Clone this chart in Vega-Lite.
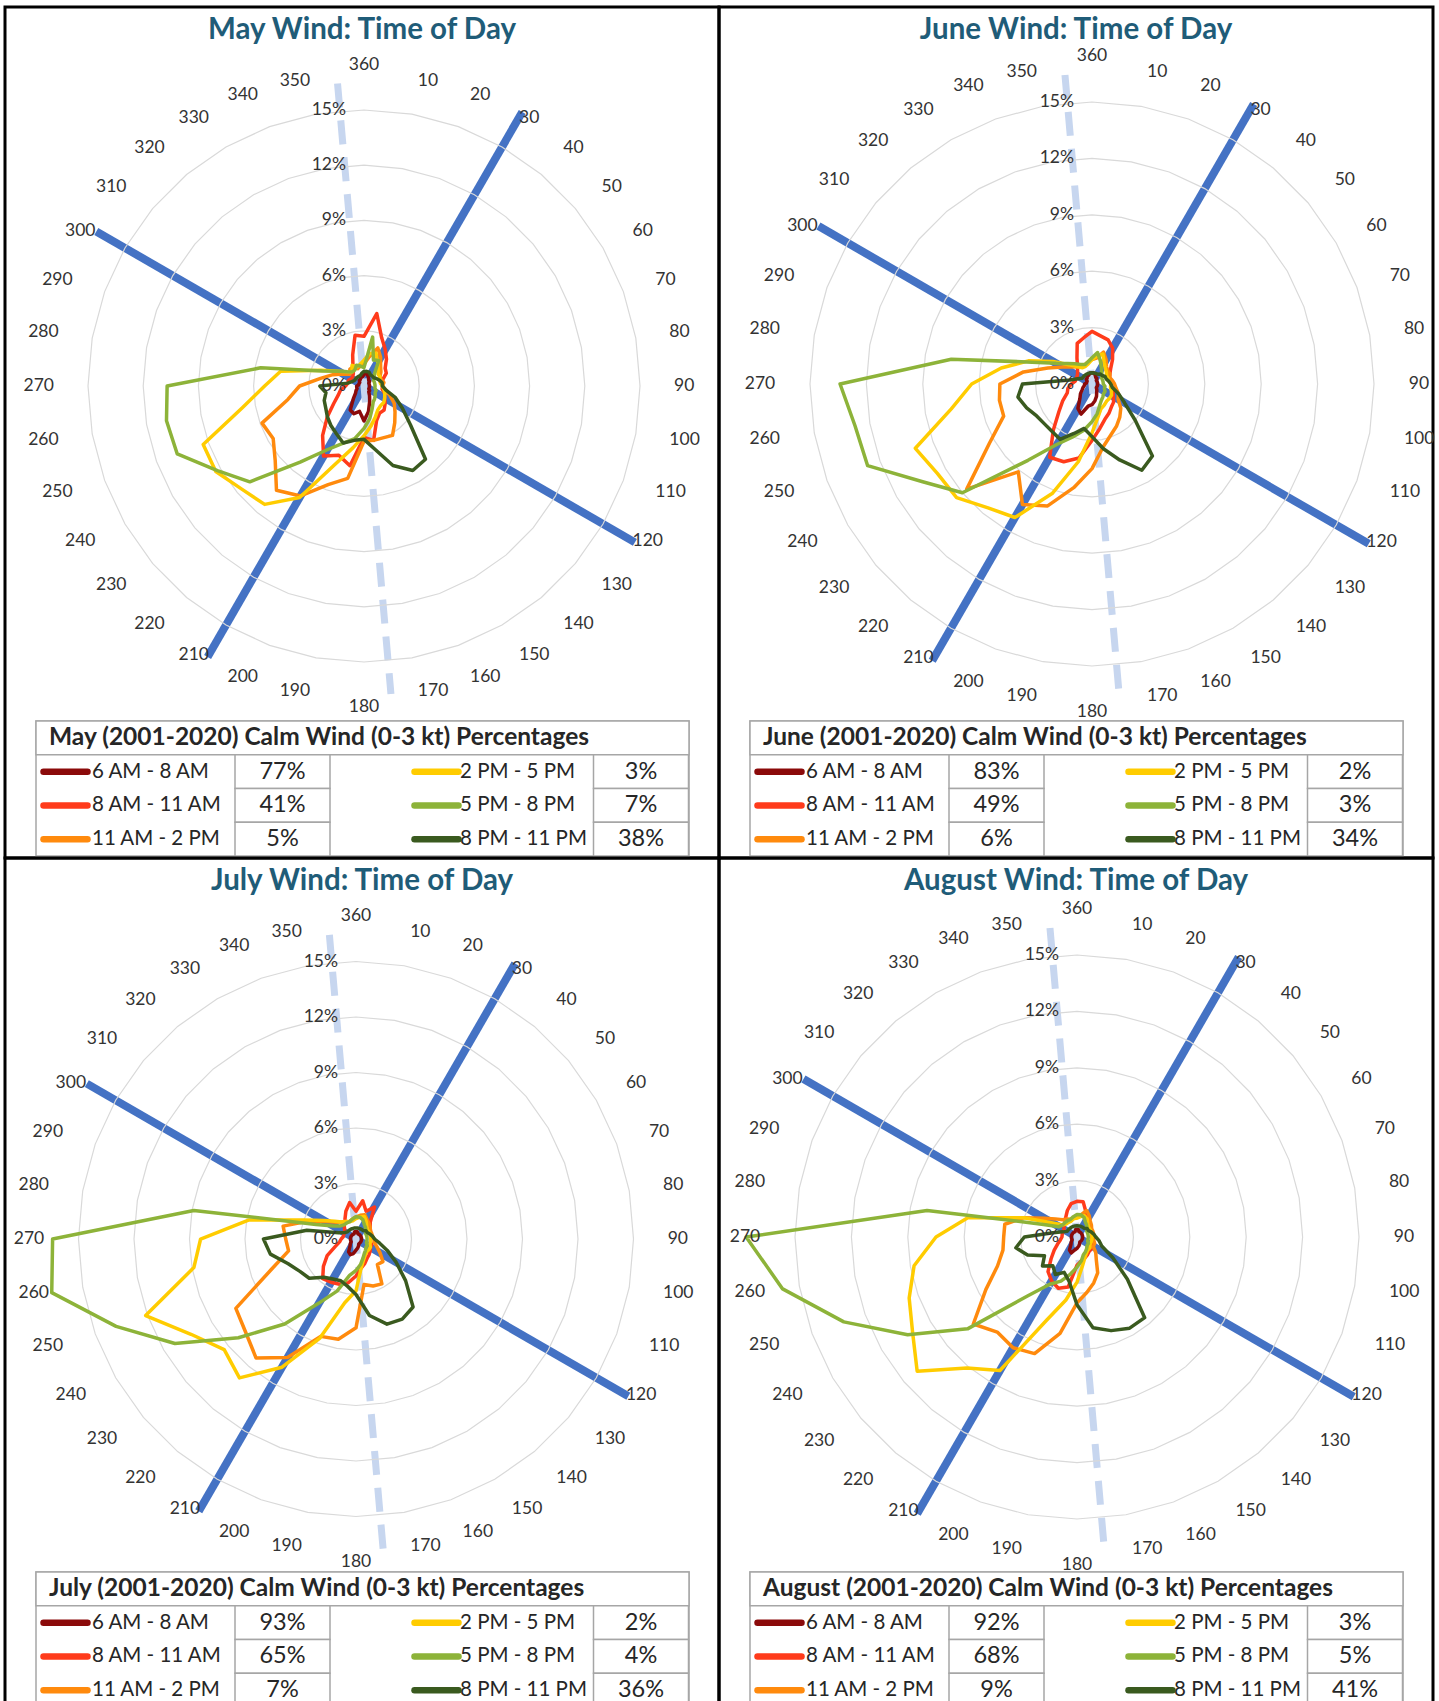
{
"$schema": "https://vega.github.io/schema/vega-lite/v6.json",
"padding": {"left": 3, "top": 5, "right": 2, "bottom": 0},
"background": "white",
"config": {"view": {"stroke": "#000000", "strokeWidth": 3}, "font": "Lato"},
"datasets": {
"dirs": [{"dir":10,"ring":[3,6,9,12,15]},{"dir":20,"ring":[3,6,9,12,15]},{"dir":30,"ring":[3,6,9,12,15]},{"dir":40,"ring":[3,6,9,12,15]},{"dir":50,"ring":[3,6,9,12,15]},{"dir":60,"ring":[3,6,9,12,15]},{"dir":70,"ring":[3,6,9,12,15]},{"dir":80,"ring":[3,6,9,12,15]},{"dir":90,"ring":[3,6,9,12,15]},{"dir":100,"ring":[3,6,9,12,15]},{"dir":110,"ring":[3,6,9,12,15]},{"dir":120,"ring":[3,6,9,12,15]},{"dir":130,"ring":[3,6,9,12,15]},{"dir":140,"ring":[3,6,9,12,15]},{"dir":150,"ring":[3,6,9,12,15]},{"dir":160,"ring":[3,6,9,12,15]},{"dir":170,"ring":[3,6,9,12,15]},{"dir":180,"ring":[3,6,9,12,15]},{"dir":190,"ring":[3,6,9,12,15]},{"dir":200,"ring":[3,6,9,12,15]},{"dir":210,"ring":[3,6,9,12,15]},{"dir":220,"ring":[3,6,9,12,15]},{"dir":230,"ring":[3,6,9,12,15]},{"dir":240,"ring":[3,6,9,12,15]},{"dir":250,"ring":[3,6,9,12,15]},{"dir":260,"ring":[3,6,9,12,15]},{"dir":270,"ring":[3,6,9,12,15]},{"dir":280,"ring":[3,6,9,12,15]},{"dir":290,"ring":[3,6,9,12,15]},{"dir":300,"ring":[3,6,9,12,15]},{"dir":310,"ring":[3,6,9,12,15]},{"dir":320,"ring":[3,6,9,12,15]},{"dir":330,"ring":[3,6,9,12,15]},{"dir":340,"ring":[3,6,9,12,15]},{"dir":350,"ring":[3,6,9,12,15]},{"dir":360,"ring":[3,6,9,12,15]}],
"runways": [{"runway":"03-21","dir":30,"pct":17.2},{"runway":"03-21","dir":210,"pct":17.0},{"runway":"12-30","dir":120,"pct":17.0},{"runway":"12-30","dir":300,"pct":16.8}],
"centerline": [{"dir":355,"pct":16.5},{"dir":175,"pct":16.8}],
"ticks": [{"dir":360,"pct":0,"label":"0%"},{"dir":360,"pct":3,"label":"3%"},{"dir":360,"pct":6,"label":"6%"},{"dir":360,"pct":9,"label":"9%"},{"dir":360,"pct":12,"label":"12%"},{"dir":360,"pct":15,"label":"15%"}],
"calm": [
{"month":"May","period":"6 AM - 8 AM","side":"L","row":"1","calm":0.77},
{"month":"May","period":"8 AM - 11 AM","side":"L","row":"2","calm":0.41},
{"month":"May","period":"11 AM - 2 PM","side":"L","row":"3","calm":0.05},
{"month":"May","period":"2 PM - 5 PM","side":"R","row":"1","calm":0.03},
{"month":"May","period":"5 PM - 8 PM","side":"R","row":"2","calm":0.07},
{"month":"May","period":"8 PM - 11 PM","side":"R","row":"3","calm":0.38},
{"month":"June","period":"6 AM - 8 AM","side":"L","row":"1","calm":0.83},
{"month":"June","period":"8 AM - 11 AM","side":"L","row":"2","calm":0.49},
{"month":"June","period":"11 AM - 2 PM","side":"L","row":"3","calm":0.06},
{"month":"June","period":"2 PM - 5 PM","side":"R","row":"1","calm":0.02},
{"month":"June","period":"5 PM - 8 PM","side":"R","row":"2","calm":0.03},
{"month":"June","period":"8 PM - 11 PM","side":"R","row":"3","calm":0.34},
{"month":"July","period":"6 AM - 8 AM","side":"L","row":"1","calm":0.93},
{"month":"July","period":"8 AM - 11 AM","side":"L","row":"2","calm":0.65},
{"month":"July","period":"11 AM - 2 PM","side":"L","row":"3","calm":0.07},
{"month":"July","period":"2 PM - 5 PM","side":"R","row":"1","calm":0.02},
{"month":"July","period":"5 PM - 8 PM","side":"R","row":"2","calm":0.04},
{"month":"July","period":"8 PM - 11 PM","side":"R","row":"3","calm":0.36},
{"month":"August","period":"6 AM - 8 AM","side":"L","row":"1","calm":0.92},
{"month":"August","period":"8 AM - 11 AM","side":"L","row":"2","calm":0.68},
{"month":"August","period":"11 AM - 2 PM","side":"L","row":"3","calm":0.09},
{"month":"August","period":"2 PM - 5 PM","side":"R","row":"1","calm":0.03},
{"month":"August","period":"5 PM - 8 PM","side":"R","row":"2","calm":0.05},
{"month":"August","period":"8 PM - 11 PM","side":"R","row":"3","calm":0.41}
],
"winds": [
{"month":"May","period":"6 AM - 8 AM","dir":[10,20,30,40,50,60,70,80,90,100,110,120,130,140,150,160,170,180,190,200,210,220,230,240,250,260,270,280,290,300,310,320,330,340,350,360],"pct":[0.8,0.6,0.5,0.4,0.4,0.3,0.3,0.3,0.3,0.3,0.3,0.3,0.4,0.4,0.6,0.9,1.4,1.9,1.4,1.6,1.5,0.9,0.6,0.5,0.4,0.4,0.4,0.3,0.3,0.3,0.3,0.4,0.4,0.5,0.5,0.6]},
{"month":"May","period":"8 AM - 11 AM","dir":[10,20,30,40,50,60,70,80,90,100,110,120,130,140,150,160,170,180,190,200,210,220,230,240,250,260,270,280,290,300,310,320,330,340,350,360],"pct":[4.0,2.8,2.3,1.9,1.5,1.4,1.1,1.0,1.0,1.0,1.2,1.3,1.5,1.7,1.7,2.0,3.0,2.8,4.4,4.0,4.4,3.5,2.6,1.9,1.5,1.3,1.0,0.9,0.9,0.8,0.8,0.9,1.2,1.8,2.8,2.7]},
{"month":"May","period":"11 AM - 2 PM","dir":[10,20,30,40,50,60,70,80,90,100,110,120,130,140,150,160,170,180,190,200,210,220,230,240,250,260,270,280,290,300,310,320,330,340,350,360],"pct":[1.6,2.2,1.8,1.4,1.2,1.0,1.0,1.1,1.0,1.2,1.5,1.9,2.2,2.6,3.1,3.0,3.0,3.0,5.1,5.7,6.9,7.4,6.3,5.7,5.9,4.2,3.5,2.4,1.8,1.3,1.0,1.2,1.2,1.0,1.1,1.2]},
{"month":"May","period":"2 PM - 5 PM","dir":[10,20,30,40,50,60,70,80,90,100,110,120,130,140,150,160,170,180,190,200,210,220,230,240,250,260,270,280,290,300,310,320,330,340,350,360],"pct":[1.8,1.9,1.5,1.2,1.0,1.0,0.9,0.9,1.0,1.1,1.2,1.3,1.4,1.4,1.5,1.8,2.2,2.7,3.4,4.5,7.0,8.4,8.7,9.3,9.3,6.7,5.4,4.6,2.5,1.6,1.2,1.0,1.3,1.1,1.2,1.4]},
{"month":"May","period":"5 PM - 8 PM","dir":[10,20,30,40,50,60,70,80,90,100,110,120,130,140,150,160,170,180,190,200,210,220,230,240,250,260,270,280,290,300,310,320,330,340,350,360],"pct":[2.7,1.5,1.6,0.9,0.7,0.6,0.6,0.6,0.6,0.6,0.7,0.7,0.8,0.9,1.0,1.3,1.8,2.3,2.9,3.3,4.0,5.4,8.1,9.2,10.8,10.9,10.7,5.7,2.4,1.6,1.2,1.0,1.0,1.2,1.1,1.0]},
{"month":"May","period":"8 PM - 11 PM","dir":[10,20,30,40,50,60,70,80,90,100,110,120,130,140,150,160,170,180,190,200,210,220,230,240,250,260,270,280,290,300,310,320,330,340,350,360],"pct":[0.8,0.8,0.7,0.7,0.7,0.8,0.9,1.0,1.0,1.2,1.8,2.4,3.3,5.2,5.3,4.6,3.5,2.9,3.0,3.3,3.0,2.8,2.6,2.4,2.3,2.1,2.4,0.9,0.7,0.6,0.6,0.6,0.6,0.6,0.7,0.8]},
{"month":"June","period":"6 AM - 8 AM","dir":[10,20,30,40,50,60,70,80,90,100,110,120,130,140,150,160,170,180,190,200,210,220,230,240,250,260,270,280,290,300,310,320,330,340,350,360],"pct":[0.6,0.5,0.4,0.4,0.3,0.3,0.3,0.3,0.3,0.3,0.3,0.3,0.3,0.4,0.5,0.7,0.9,1.1,1.2,1.7,1.5,1.0,0.8,0.6,0.5,0.4,0.4,0.3,0.3,0.3,0.4,0.4,0.5,0.5,0.6,0.6]},
{"month":"June","period":"8 AM - 11 AM","dir":[10,20,30,40,50,60,70,80,90,100,110,120,130,140,150,160,170,180,190,200,210,220,230,240,250,260,270,280,290,300,310,320,330,340,350,360],"pct":[2.6,2.5,2.2,1.7,1.3,1.1,1.0,1.0,1.0,1.1,1.2,1.3,1.5,1.6,1.8,2.0,2.4,3.0,4.0,4.4,4.5,3.2,2.3,1.8,1.4,1.3,1.1,0.9,0.9,0.9,1.0,1.2,1.6,2.3,2.5,2.8]},
{"month":"June","period":"11 AM - 2 PM","dir":[10,20,30,40,50,60,70,80,90,100,110,120,130,140,150,160,170,180,190,200,210,220,230,240,250,260,270,280,290,300,310,320,330,340,350,360],"pct":[1.4,1.8,1.5,1.2,1.1,1.1,1.0,1.1,1.2,1.3,1.5,1.6,2.0,2.3,2.6,2.9,3.4,4.5,5.6,6.9,7.4,6.1,8.7,6.3,5.0,5.0,4.9,3.7,2.5,1.8,1.4,1.2,1.1,1.1,1.2,1.3]},
{"month":"June","period":"2 PM - 5 PM","dir":[10,20,30,40,50,60,70,80,90,100,110,120,130,140,150,160,170,180,190,200,210,220,230,240,250,260,270,280,290,300,310,320,330,340,350,360],"pct":[1.5,1.7,1.3,1.1,1.0,0.9,0.9,0.9,1.0,1.0,1.1,1.2,1.2,1.2,1.3,1.4,1.8,2.6,4.2,6.2,8.2,8.6,9.4,9.5,10.0,7.6,6.4,4.9,3.6,2.4,1.6,1.2,1.0,1.0,1.1,1.3]},
{"month":"June","period":"5 PM - 8 PM","dir":[10,20,30,40,50,60,70,80,90,100,110,120,130,140,150,160,170,180,190,200,210,220,230,240,250,260,270,280,290,300,310,320,330,340,350,360],"pct":[1.7,1.3,1.0,0.8,0.7,0.6,0.6,0.6,0.6,0.7,0.7,0.8,0.8,0.9,1.0,1.2,1.6,2.0,2.5,3.0,3.7,5.3,9.0,10.4,12.7,12.8,13.4,7.6,3.4,2.2,1.7,1.4,1.2,1.1,1.2,1.4]},
{"month":"June","period":"8 PM - 11 PM","dir":[10,20,30,40,50,60,70,80,90,100,110,120,130,140,150,160,170,180,190,200,210,220,230,240,250,260,270,280,290,300,310,320,330,340,350,360],"pct":[0.6,0.6,0.6,0.7,0.7,0.8,0.8,0.9,1.0,1.1,1.5,2.0,3.0,5.0,5.3,4.3,3.5,2.8,2.4,2.8,3.4,3.3,3.3,3.4,3.7,4.0,3.7,1.2,0.8,0.6,0.6,0.6,0.6,0.6,0.6,0.6]},
{"month":"July","period":"6 AM - 8 AM","dir":[10,20,30,40,50,60,70,80,90,100,110,120,130,140,150,160,170,180,190,200,210,220,230,240,250,260,270,280,290,300,310,320,330,340,350,360],"pct":[0.4,0.3,0.3,0.3,0.3,0.3,0.3,0.3,0.3,0.3,0.3,0.3,0.3,0.3,0.3,0.4,0.5,0.6,0.8,0.9,0.8,0.5,0.4,0.3,0.3,0.3,0.3,0.3,0.3,0.3,0.3,0.3,0.3,0.3,0.4,0.4]},
{"month":"July","period":"8 AM - 11 AM","dir":[10,20,30,40,50,60,70,80,90,100,110,120,130,140,150,160,170,180,190,200,210,220,230,240,250,260,270,280,290,300,310,320,330,340,350,360],"pct":[2.1,1.6,2.0,1.2,1.0,0.9,0.8,0.8,0.8,0.8,0.9,0.9,1.0,1.1,1.2,1.4,1.6,2.0,2.4,2.6,2.7,2.8,2.3,1.8,1.2,0.9,0.8,0.7,0.7,0.7,0.8,1.0,1.2,1.6,2.0,1.5]},
{"month":"July","period":"11 AM - 2 PM","dir":[10,20,30,40,50,60,70,80,90,100,110,120,130,140,150,160,170,180,190,200,210,220,230,240,250,260,270,280,290,300,310,320,330,340,350,360],"pct":[1.3,1.4,1.2,1.1,1.0,0.9,0.9,0.9,1.0,1.0,1.2,1.5,1.9,1.8,2.8,2.7,2.5,4.8,5.5,5.6,7.4,8.4,7.8,7.5,4.9,3.7,3.8,4.0,2.8,1.9,1.4,1.2,1.1,1.0,1.1,1.2]},
{"month":"July","period":"2 PM - 5 PM","dir":[10,20,30,40,50,60,70,80,90,100,110,120,130,140,150,160,170,180,190,200,210,220,230,240,250,260,270,280,290,300,310,320,330,340,350,360],"pct":[1.2,1.3,1.1,0.9,0.8,0.8,0.8,0.8,0.8,0.8,0.8,0.9,0.9,0.9,1.0,1.2,1.6,2.8,3.5,5.7,8.0,9.8,9.3,10.3,12.1,8.9,8.4,5.9,3.0,2.0,1.5,1.2,1.1,1.0,1.0,1.1]},
{"month":"July","period":"5 PM - 8 PM","dir":[10,20,30,40,50,60,70,80,90,100,110,120,130,140,150,160,170,180,190,200,210,220,230,240,250,260,270,280,290,300,310,320,330,340,350,360],"pct":[1.2,1.1,0.9,0.8,0.7,0.6,0.6,0.6,0.6,0.6,0.6,0.7,0.7,0.8,0.9,1.1,1.4,1.7,2.0,3.0,4.0,6.0,8.3,11.3,13.8,16.7,16.4,8.9,2.3,1.4,1.1,1.0,1.0,1.0,1.1,1.2]},
{"month":"July","period":"8 PM - 11 PM","dir":[10,20,30,40,50,60,70,80,90,100,110,120,130,140,150,160,170,180,190,200,210,220,230,240,250,260,270,280,290,300,310,320,330,340,350,360],"pct":[0.6,0.6,0.6,0.6,0.7,0.7,0.8,0.9,1.0,1.3,1.8,2.5,3.5,4.8,5.0,4.9,4.2,3.0,2.6,2.4,2.5,2.7,3.3,3.5,3.9,4.7,5.0,2.7,1.0,0.7,0.6,0.6,0.6,0.6,0.6,0.6]},
{"month":"August","period":"6 AM - 8 AM","dir":[10,20,30,40,50,60,70,80,90,100,110,120,130,140,150,160,170,180,190,200,210,220,230,240,250,260,270,280,290,300,310,320,330,340,350,360],"pct":[0.4,0.3,0.3,0.3,0.3,0.3,0.3,0.3,0.3,0.3,0.3,0.3,0.3,0.3,0.3,0.4,0.5,0.6,0.7,0.9,0.8,0.5,0.4,0.3,0.3,0.3,0.3,0.3,0.3,0.3,0.3,0.3,0.3,0.3,0.4,0.4]},
{"month":"August","period":"8 AM - 11 AM","dir":[10,20,30,40,50,60,70,80,90,100,110,120,130,140,150,160,170,180,190,200,210,220,230,240,250,260,270,280,290,300,310,320,330,340,350,360],"pct":[1.9,1.4,1.1,0.9,0.8,0.8,0.8,0.8,0.8,0.8,0.9,0.9,1.0,1.0,1.1,1.2,1.3,1.5,2.7,2.9,2.7,2.4,1.8,1.4,1.1,0.9,0.8,0.8,0.8,0.8,0.9,1.0,1.2,1.5,1.8,1.9]},
{"month":"August","period":"11 AM - 2 PM","dir":[10,20,30,40,50,60,70,80,90,100,110,120,130,140,150,160,170,180,190,200,210,220,230,240,250,260,270,280,290,300,310,320,330,340,350,360],"pct":[1.2,1.5,1.3,1.1,1.0,0.9,0.9,0.9,0.9,0.9,1.0,1.0,1.3,1.6,2.2,2.6,3.0,3.5,5.2,6.6,6.8,6.6,7.2,5.6,4.5,4.0,3.9,3.9,3.0,2.0,1.5,1.2,1.1,1.0,1.0,1.1]},
{"month":"August","period":"2 PM - 5 PM","dir":[10,20,30,40,50,60,70,80,90,100,110,120,130,140,150,160,170,180,190,200,210,220,230,240,250,260,270,280,290,300,310,320,330,340,350,360],"pct":[1.1,1.2,1.1,0.9,0.8,0.8,0.8,0.8,0.8,0.8,0.8,0.8,0.9,0.9,1.0,1.2,1.6,2.4,3.4,4.7,8.2,9.1,11.1,10.1,9.5,8.8,7.5,5.9,3.0,1.5,1.0,0.9,0.9,0.9,1.0,1.0]},
{"month":"August","period":"5 PM - 8 PM","dir":[10,20,30,40,50,60,70,80,90,100,110,120,130,140,150,160,170,180,190,200,210,220,230,240,250,260,270,280,290,300,310,320,330,340,350,360],"pct":[1.2,1.1,0.9,0.8,0.7,0.6,0.6,0.6,0.6,0.6,0.6,0.7,0.7,0.8,0.9,1.0,1.3,1.6,2.0,2.5,2.9,4.1,7.6,10.4,13.2,15.9,17.6,8.1,2.0,1.1,1.0,1.0,1.0,1.0,1.1,1.2]},
{"month":"August","period":"8 PM - 11 PM","dir":[10,20,30,40,50,60,70,80,90,100,110,120,130,140,150,160,170,180,190,200,210,220,230,240,250,260,270,280,290,300,310,320,330,340,350,360],"pct":[0.6,0.6,0.6,0.6,0.7,0.7,0.8,0.9,1.0,1.2,1.4,2.2,3.5,5.6,5.6,5.3,4.9,3.6,2.4,2.0,2.3,2.0,2.4,2.0,2.8,3.3,2.8,1.3,0.8,0.6,0.6,0.6,0.6,0.6,0.6,0.6]}
]
},
"columns": 2,
"spacing": 0,
"bounds": "flush",
"concat": [
{"width": 714, "height": 851,
 "layer": [
  {"encoding": {"x": {"field": "x", "type": "quantitative", "scale": {"domain": [-19.511, 19.293], "nice": false, "zero": false}, "axis": null}, "y": {"field": "y", "type": "quantitative", "scale": {"domain": [-25.652, 20.598], "nice": false, "zero": false}, "axis": null}},
   "layer": [
    {"data": {"name": "runways"}, "transform": [{"calculate": "datum.pct*sin(datum.dir*PI/180)", "as": "x"}, {"calculate": "datum.pct*cos(datum.dir*PI/180)", "as": "y"}], "mark": {"type": "line", "color": "#4472c4", "strokeWidth": 8}, "encoding": {"detail": {"field": "runway"}}},
    {"data": {"name": "centerline"}, "transform": [{"calculate": "datum.pct*sin(datum.dir*PI/180)", "as": "x"}, {"calculate": "datum.pct*cos(datum.dir*PI/180)", "as": "y"}], "mark": {"type": "line", "color": "#c7d6ef", "strokeWidth": 7, "strokeDash": [24, 13]}, "encoding": {}},
    {"data": {"name": "dirs"}, "transform": [{"flatten": ["ring"]}, {"calculate": "datum.ring*sin(datum.dir*PI/180)", "as": "x"}, {"calculate": "datum.ring*cos(datum.dir*PI/180)", "as": "y"}], "mark": {"type": "line", "interpolate": "linear-closed", "color": "#d9d9d9", "strokeWidth": 1.2}, "encoding": {"detail": {"field": "ring"}, "order": {"field": "dir", "type": "quantitative"}}},
    {"data": {"name": "winds"}, "transform": [{"filter": "datum.month == 'May'"}, {"flatten": ["dir", "pct"]}, {"calculate": "datum.pct*sin(datum.dir*PI/180)", "as": "x"}, {"calculate": "datum.pct*cos(datum.dir*PI/180)", "as": "y"}], "mark": {"type": "line", "interpolate": "linear-closed", "strokeWidth": 3.5, "strokeJoin": "round"}, "encoding": {"color": {"field": "period", "type": "nominal", "scale": {"domain": ["6 AM - 8 AM","8 AM - 11 AM","11 AM - 2 PM","2 PM - 5 PM","5 PM - 8 PM","8 PM - 11 PM"], "range": ["#8b0a0a","#ff3b1b","#ff8a0d","#ffcc00","#8db339","#3a5a1f"]}, "legend": null}, "order": {"field": "dir", "type": "quantitative"}}},
    {"data": {"name": "dirs"}, "transform": [{"filter": "datum.dir > 0 && datum.dir < 180"}, {"calculate": "16.85*sin(datum.dir*PI/180)", "as": "x"}, {"calculate": "16.85*cos(datum.dir*PI/180)", "as": "y"}], "mark": {"type": "text", "align": "left", "baseline": "middle", "font": "Lato", "fontSize": 17.5, "color": "#333333"}, "encoding": {"text": {"field": "dir", "type": "nominal"}}},
    {"data": {"name": "dirs"}, "transform": [{"filter": "datum.dir > 180 && datum.dir < 360"}, {"calculate": "16.85*sin(datum.dir*PI/180)", "as": "x"}, {"calculate": "16.85*cos(datum.dir*PI/180)", "as": "y"}], "mark": {"type": "text", "align": "right", "baseline": "middle", "font": "Lato", "fontSize": 17.5, "color": "#333333"}, "encoding": {"text": {"field": "dir", "type": "nominal"}}},
    {"data": {"name": "dirs"}, "transform": [{"filter": "datum.dir == 360"}, {"calculate": "0", "as": "x"}, {"calculate": "16.95", "as": "y"}], "mark": {"type": "text", "align": "center", "baseline": "bottom", "font": "Lato", "fontSize": 17.5, "color": "#333333"}, "encoding": {"text": {"field": "dir", "type": "nominal"}}},
    {"data": {"name": "dirs"}, "transform": [{"filter": "datum.dir == 180"}, {"calculate": "0", "as": "x"}, {"calculate": "-16.95", "as": "y"}], "mark": {"type": "text", "align": "center", "baseline": "top", "font": "Lato", "fontSize": 17.5, "color": "#333333"}, "encoding": {"text": {"field": "dir", "type": "nominal"}}},
    {"data": {"name": "ticks"}, "transform": [{"calculate": "datum.pct*sin(datum.dir*PI/180)", "as": "x"}, {"calculate": "datum.pct*cos(datum.dir*PI/180)", "as": "y"}], "mark": {"type": "text", "align": "right", "dx": -18, "font": "Lato", "fontSize": 17.5, "color": "#333333"}, "encoding": {"text": {"field": "label"}}}
   ]},
  {"layer": [
    {"data": {"values": [{"part": "frame", "caption": "May Wind: Time of Day"}]}, "mark": {"type": "text", "font": "Lato", "fontSize": 29.5, "fontWeight": "bold", "color": "#1f5c78"}, "encoding": {"x": {"field": "part", "type": "nominal", "scale": {"domain": ["frame"], "range": [0, 714], "paddingInner": 0, "paddingOuter": 0}, "axis": null}, "y": {"field": "part", "type": "nominal", "scale": {"domain": ["frame"], "range": [4, 42], "paddingInner": 0, "paddingOuter": 0}, "axis": null}, "text": {"field": "caption"}}},
    {"data": {"values": [{"part": "frame"}]}, "mark": {"type": "rect", "fill": "white", "stroke": "#a6a6a6", "strokeWidth": 1.5}, "encoding": {"x": {"field": "part", "type": "nominal", "scale": {"domain": ["frame"], "range": [31, 684], "paddingInner": 0, "paddingOuter": 0}, "axis": null}, "y": {"field": "part", "type": "nominal", "scale": {"domain": ["frame"], "range": [714, 849], "paddingInner": 0, "paddingOuter": 0}, "axis": null}}},
    {"data": {"values": [{"part": "frame", "row": "0", "caption": "May (2001-2020) Calm Wind (0-3 kt) Percentages"}]},
     "encoding": {"x": {"field": "part", "type": "nominal", "scale": {"domain": ["frame"], "range": [31, 684], "paddingInner": 0, "paddingOuter": 0}, "axis": null}, "y": {"field": "row", "type": "nominal", "scale": {"domain": ["0","1","2","3"], "range": [714, 849], "paddingInner": 0, "paddingOuter": 0}, "axis": null}},
     "layer": [
      {"mark": {"type": "rect", "fill": "white", "stroke": "#a6a6a6", "strokeWidth": 1.5}},
      {"mark": {"type": "text", "align": "left", "dx": 13, "font": "Lato", "fontSize": 24.5, "fontWeight": "bold", "color": "#262626"}, "encoding": {"x": {"field": "part", "type": "nominal", "bandPosition": 0, "scale": {"domain": ["frame"], "range": [31, 684], "paddingInner": 0, "paddingOuter": 0}, "axis": null}, "text": {"field": "caption"}}}
     ]},
    {"data": {"name": "calm"}, "transform": [{"filter": "datum.month == 'May'"}],
     "encoding": {"x": {"field": "side", "type": "nominal", "scale": {"domain": ["L","R"], "range": [98.25, 815.25], "paddingInner": 0, "paddingOuter": 0}, "axis": null}, "y": {"field": "row", "type": "nominal", "scale": {"domain": ["0","1","2","3"], "range": [714, 849], "paddingInner": 0, "paddingOuter": 0}, "axis": null}},
     "layer": [
      {"mark": {"type": "rect", "width": 95, "fill": "white", "stroke": "#a6a6a6", "strokeWidth": 1.5}},
      {"mark": {"type": "text", "font": "Lato", "fontSize": 23.5, "color": "#262626"}, "encoding": {"text": {"field": "calm", "type": "quantitative", "format": ".0%"}}}
     ]},
    {"data": {"name": "calm"}, "transform": [{"filter": "datum.month == 'May'"}], "mark": {"type": "text", "align": "left", "font": "Lato", "fontSize": 20.5, "color": "#262626"},
     "encoding": {"x": {"field": "side", "type": "nominal", "scale": {"type": "point", "domain": ["L","R"], "range": [87, 455], "padding": 0}, "axis": null}, "y": {"field": "row", "type": "nominal", "scale": {"domain": ["0","1","2","3"], "range": [714, 849], "paddingInner": 0, "paddingOuter": 0}, "axis": null}, "text": {"field": "period"}}},
    {"data": {"name": "calm"}, "transform": [{"filter": "datum.month == 'May'"}], "mark": {"type": "point", "shape": "M-1,0L1,0", "size": 1936, "filled": false, "strokeWidth": 6.5, "strokeCap": "round", "opacity": 1},
     "encoding": {"x": {"field": "side", "type": "nominal", "scale": {"type": "point", "domain": ["L","R"], "range": [60.5, 431.5], "padding": 0}, "axis": null}, "y": {"field": "row", "type": "nominal", "scale": {"domain": ["0","1","2","3"], "range": [714, 849], "paddingInner": 0, "paddingOuter": 0}, "axis": null}, "color": {"field": "period", "type": "nominal", "scale": {"domain": ["6 AM - 8 AM","8 AM - 11 AM","11 AM - 2 PM","2 PM - 5 PM","5 PM - 8 PM","8 PM - 11 PM"], "range": ["#8b0a0a","#ff3b1b","#ff8a0d","#ffcc00","#8db339","#3a5a1f"]}, "legend": null}}}
   ],
   "resolve": {"scale": {"x": "independent", "y": "independent"}}}
 ],
 "resolve": {"scale": {"x": "independent", "y": "independent"}}
},
{"width": 714, "height": 851,
 "layer": [
  {"encoding": {"x": {"field": "x", "type": "quantitative", "scale": {"domain": [-19.84, 18.138], "nice": false, "zero": false}, "axis": null}, "y": {"field": "y", "type": "quantitative", "scale": {"domain": [-25.213, 20.053], "nice": false, "zero": false}, "axis": null}},
   "layer": [
    {"data": {"name": "runways"}, "transform": [{"calculate": "datum.pct*sin(datum.dir*PI/180)", "as": "x"}, {"calculate": "datum.pct*cos(datum.dir*PI/180)", "as": "y"}], "mark": {"type": "line", "color": "#4472c4", "strokeWidth": 8}, "encoding": {"detail": {"field": "runway"}}},
    {"data": {"name": "centerline"}, "transform": [{"calculate": "datum.pct*sin(datum.dir*PI/180)", "as": "x"}, {"calculate": "datum.pct*cos(datum.dir*PI/180)", "as": "y"}], "mark": {"type": "line", "color": "#c7d6ef", "strokeWidth": 7, "strokeDash": [24, 13]}, "encoding": {}},
    {"data": {"name": "dirs"}, "transform": [{"flatten": ["ring"]}, {"calculate": "datum.ring*sin(datum.dir*PI/180)", "as": "x"}, {"calculate": "datum.ring*cos(datum.dir*PI/180)", "as": "y"}], "mark": {"type": "line", "interpolate": "linear-closed", "color": "#d9d9d9", "strokeWidth": 1.2}, "encoding": {"detail": {"field": "ring"}, "order": {"field": "dir", "type": "quantitative"}}},
    {"data": {"name": "winds"}, "transform": [{"filter": "datum.month == 'June'"}, {"flatten": ["dir", "pct"]}, {"calculate": "datum.pct*sin(datum.dir*PI/180)", "as": "x"}, {"calculate": "datum.pct*cos(datum.dir*PI/180)", "as": "y"}], "mark": {"type": "line", "interpolate": "linear-closed", "strokeWidth": 3.5, "strokeJoin": "round"}, "encoding": {"color": {"field": "period", "type": "nominal", "scale": {"domain": ["6 AM - 8 AM","8 AM - 11 AM","11 AM - 2 PM","2 PM - 5 PM","5 PM - 8 PM","8 PM - 11 PM"], "range": ["#8b0a0a","#ff3b1b","#ff8a0d","#ffcc00","#8db339","#3a5a1f"]}, "legend": null}, "order": {"field": "dir", "type": "quantitative"}}},
    {"data": {"name": "dirs"}, "transform": [{"filter": "datum.dir > 0 && datum.dir < 180"}, {"calculate": "16.85*sin(datum.dir*PI/180)", "as": "x"}, {"calculate": "16.85*cos(datum.dir*PI/180)", "as": "y"}], "mark": {"type": "text", "align": "left", "baseline": "middle", "font": "Lato", "fontSize": 17.5, "color": "#333333"}, "encoding": {"text": {"field": "dir", "type": "nominal"}}},
    {"data": {"name": "dirs"}, "transform": [{"filter": "datum.dir > 180 && datum.dir < 360"}, {"calculate": "16.85*sin(datum.dir*PI/180)", "as": "x"}, {"calculate": "16.85*cos(datum.dir*PI/180)", "as": "y"}], "mark": {"type": "text", "align": "right", "baseline": "middle", "font": "Lato", "fontSize": 17.5, "color": "#333333"}, "encoding": {"text": {"field": "dir", "type": "nominal"}}},
    {"data": {"name": "dirs"}, "transform": [{"filter": "datum.dir == 360"}, {"calculate": "0", "as": "x"}, {"calculate": "16.95", "as": "y"}], "mark": {"type": "text", "align": "center", "baseline": "bottom", "font": "Lato", "fontSize": 17.5, "color": "#333333"}, "encoding": {"text": {"field": "dir", "type": "nominal"}}},
    {"data": {"name": "dirs"}, "transform": [{"filter": "datum.dir == 180"}, {"calculate": "0", "as": "x"}, {"calculate": "-16.95", "as": "y"}], "mark": {"type": "text", "align": "center", "baseline": "top", "font": "Lato", "fontSize": 17.5, "color": "#333333"}, "encoding": {"text": {"field": "dir", "type": "nominal"}}},
    {"data": {"name": "ticks"}, "transform": [{"calculate": "datum.pct*sin(datum.dir*PI/180)", "as": "x"}, {"calculate": "datum.pct*cos(datum.dir*PI/180)", "as": "y"}], "mark": {"type": "text", "align": "right", "dx": -18, "font": "Lato", "fontSize": 17.5, "color": "#333333"}, "encoding": {"text": {"field": "label"}}}
   ]},
  {"layer": [
    {"data": {"values": [{"part": "frame", "caption": "June Wind: Time of Day"}]}, "mark": {"type": "text", "font": "Lato", "fontSize": 29.5, "fontWeight": "bold", "color": "#1f5c78"}, "encoding": {"x": {"field": "part", "type": "nominal", "scale": {"domain": ["frame"], "range": [0, 714], "paddingInner": 0, "paddingOuter": 0}, "axis": null}, "y": {"field": "part", "type": "nominal", "scale": {"domain": ["frame"], "range": [4, 42], "paddingInner": 0, "paddingOuter": 0}, "axis": null}, "text": {"field": "caption"}}},
    {"data": {"values": [{"part": "frame"}]}, "mark": {"type": "rect", "fill": "white", "stroke": "#a6a6a6", "strokeWidth": 1.5}, "encoding": {"x": {"field": "part", "type": "nominal", "scale": {"domain": ["frame"], "range": [31, 684], "paddingInner": 0, "paddingOuter": 0}, "axis": null}, "y": {"field": "part", "type": "nominal", "scale": {"domain": ["frame"], "range": [714, 849], "paddingInner": 0, "paddingOuter": 0}, "axis": null}}},
    {"data": {"values": [{"part": "frame", "row": "0", "caption": "June (2001-2020) Calm Wind (0-3 kt) Percentages"}]},
     "encoding": {"x": {"field": "part", "type": "nominal", "scale": {"domain": ["frame"], "range": [31, 684], "paddingInner": 0, "paddingOuter": 0}, "axis": null}, "y": {"field": "row", "type": "nominal", "scale": {"domain": ["0","1","2","3"], "range": [714, 849], "paddingInner": 0, "paddingOuter": 0}, "axis": null}},
     "layer": [
      {"mark": {"type": "rect", "fill": "white", "stroke": "#a6a6a6", "strokeWidth": 1.5}},
      {"mark": {"type": "text", "align": "left", "dx": 13, "font": "Lato", "fontSize": 24.5, "fontWeight": "bold", "color": "#262626"}, "encoding": {"x": {"field": "part", "type": "nominal", "bandPosition": 0, "scale": {"domain": ["frame"], "range": [31, 684], "paddingInner": 0, "paddingOuter": 0}, "axis": null}, "text": {"field": "caption"}}}
     ]},
    {"data": {"name": "calm"}, "transform": [{"filter": "datum.month == 'June'"}],
     "encoding": {"x": {"field": "side", "type": "nominal", "scale": {"domain": ["L","R"], "range": [98.25, 815.25], "paddingInner": 0, "paddingOuter": 0}, "axis": null}, "y": {"field": "row", "type": "nominal", "scale": {"domain": ["0","1","2","3"], "range": [714, 849], "paddingInner": 0, "paddingOuter": 0}, "axis": null}},
     "layer": [
      {"mark": {"type": "rect", "width": 95, "fill": "white", "stroke": "#a6a6a6", "strokeWidth": 1.5}},
      {"mark": {"type": "text", "font": "Lato", "fontSize": 23.5, "color": "#262626"}, "encoding": {"text": {"field": "calm", "type": "quantitative", "format": ".0%"}}}
     ]},
    {"data": {"name": "calm"}, "transform": [{"filter": "datum.month == 'June'"}], "mark": {"type": "text", "align": "left", "font": "Lato", "fontSize": 20.5, "color": "#262626"},
     "encoding": {"x": {"field": "side", "type": "nominal", "scale": {"type": "point", "domain": ["L","R"], "range": [87, 455], "padding": 0}, "axis": null}, "y": {"field": "row", "type": "nominal", "scale": {"domain": ["0","1","2","3"], "range": [714, 849], "paddingInner": 0, "paddingOuter": 0}, "axis": null}, "text": {"field": "period"}}},
    {"data": {"name": "calm"}, "transform": [{"filter": "datum.month == 'June'"}], "mark": {"type": "point", "shape": "M-1,0L1,0", "size": 1936, "filled": false, "strokeWidth": 6.5, "strokeCap": "round", "opacity": 1},
     "encoding": {"x": {"field": "side", "type": "nominal", "scale": {"type": "point", "domain": ["L","R"], "range": [60.5, 431.5], "padding": 0}, "axis": null}, "y": {"field": "row", "type": "nominal", "scale": {"domain": ["0","1","2","3"], "range": [714, 849], "paddingInner": 0, "paddingOuter": 0}, "axis": null}, "color": {"field": "period", "type": "nominal", "scale": {"domain": ["6 AM - 8 AM","8 AM - 11 AM","11 AM - 2 PM","2 PM - 5 PM","5 PM - 8 PM","8 PM - 11 PM"], "range": ["#8b0a0a","#ff3b1b","#ff8a0d","#ffcc00","#8db339","#3a5a1f"]}, "legend": null}}}
   ],
   "resolve": {"scale": {"x": "independent", "y": "independent"}}}
 ],
 "resolve": {"scale": {"x": "independent", "y": "independent"}}
},
{"width": 714, "height": 851,
 "layer": [
  {"encoding": {"x": {"field": "x", "type": "quantitative", "scale": {"domain": [-18.973, 19.622], "nice": false, "zero": false}, "axis": null}, "y": {"field": "y", "type": "quantitative", "scale": {"domain": [-25.405, 20.595], "nice": false, "zero": false}, "axis": null}},
   "layer": [
    {"data": {"name": "runways"}, "transform": [{"calculate": "datum.pct*sin(datum.dir*PI/180)", "as": "x"}, {"calculate": "datum.pct*cos(datum.dir*PI/180)", "as": "y"}], "mark": {"type": "line", "color": "#4472c4", "strokeWidth": 8}, "encoding": {"detail": {"field": "runway"}}},
    {"data": {"name": "centerline"}, "transform": [{"calculate": "datum.pct*sin(datum.dir*PI/180)", "as": "x"}, {"calculate": "datum.pct*cos(datum.dir*PI/180)", "as": "y"}], "mark": {"type": "line", "color": "#c7d6ef", "strokeWidth": 7, "strokeDash": [24, 13]}, "encoding": {}},
    {"data": {"name": "dirs"}, "transform": [{"flatten": ["ring"]}, {"calculate": "datum.ring*sin(datum.dir*PI/180)", "as": "x"}, {"calculate": "datum.ring*cos(datum.dir*PI/180)", "as": "y"}], "mark": {"type": "line", "interpolate": "linear-closed", "color": "#d9d9d9", "strokeWidth": 1.2}, "encoding": {"detail": {"field": "ring"}, "order": {"field": "dir", "type": "quantitative"}}},
    {"data": {"name": "winds"}, "transform": [{"filter": "datum.month == 'July'"}, {"flatten": ["dir", "pct"]}, {"calculate": "datum.pct*sin(datum.dir*PI/180)", "as": "x"}, {"calculate": "datum.pct*cos(datum.dir*PI/180)", "as": "y"}], "mark": {"type": "line", "interpolate": "linear-closed", "strokeWidth": 3.5, "strokeJoin": "round"}, "encoding": {"color": {"field": "period", "type": "nominal", "scale": {"domain": ["6 AM - 8 AM","8 AM - 11 AM","11 AM - 2 PM","2 PM - 5 PM","5 PM - 8 PM","8 PM - 11 PM"], "range": ["#8b0a0a","#ff3b1b","#ff8a0d","#ffcc00","#8db339","#3a5a1f"]}, "legend": null}, "order": {"field": "dir", "type": "quantitative"}}},
    {"data": {"name": "dirs"}, "transform": [{"filter": "datum.dir > 0 && datum.dir < 180"}, {"calculate": "16.85*sin(datum.dir*PI/180)", "as": "x"}, {"calculate": "16.85*cos(datum.dir*PI/180)", "as": "y"}], "mark": {"type": "text", "align": "left", "baseline": "middle", "font": "Lato", "fontSize": 17.5, "color": "#333333"}, "encoding": {"text": {"field": "dir", "type": "nominal"}}},
    {"data": {"name": "dirs"}, "transform": [{"filter": "datum.dir > 180 && datum.dir < 360"}, {"calculate": "16.85*sin(datum.dir*PI/180)", "as": "x"}, {"calculate": "16.85*cos(datum.dir*PI/180)", "as": "y"}], "mark": {"type": "text", "align": "right", "baseline": "middle", "font": "Lato", "fontSize": 17.5, "color": "#333333"}, "encoding": {"text": {"field": "dir", "type": "nominal"}}},
    {"data": {"name": "dirs"}, "transform": [{"filter": "datum.dir == 360"}, {"calculate": "0", "as": "x"}, {"calculate": "16.95", "as": "y"}], "mark": {"type": "text", "align": "center", "baseline": "bottom", "font": "Lato", "fontSize": 17.5, "color": "#333333"}, "encoding": {"text": {"field": "dir", "type": "nominal"}}},
    {"data": {"name": "dirs"}, "transform": [{"filter": "datum.dir == 180"}, {"calculate": "0", "as": "x"}, {"calculate": "-16.95", "as": "y"}], "mark": {"type": "text", "align": "center", "baseline": "top", "font": "Lato", "fontSize": 17.5, "color": "#333333"}, "encoding": {"text": {"field": "dir", "type": "nominal"}}},
    {"data": {"name": "ticks"}, "transform": [{"calculate": "datum.pct*sin(datum.dir*PI/180)", "as": "x"}, {"calculate": "datum.pct*cos(datum.dir*PI/180)", "as": "y"}], "mark": {"type": "text", "align": "right", "dx": -18, "font": "Lato", "fontSize": 17.5, "color": "#333333"}, "encoding": {"text": {"field": "label"}}}
   ]},
  {"layer": [
    {"data": {"values": [{"part": "frame", "caption": "July Wind: Time of Day"}]}, "mark": {"type": "text", "font": "Lato", "fontSize": 29.5, "fontWeight": "bold", "color": "#1f5c78"}, "encoding": {"x": {"field": "part", "type": "nominal", "scale": {"domain": ["frame"], "range": [0, 714], "paddingInner": 0, "paddingOuter": 0}, "axis": null}, "y": {"field": "part", "type": "nominal", "scale": {"domain": ["frame"], "range": [4, 42], "paddingInner": 0, "paddingOuter": 0}, "axis": null}, "text": {"field": "caption"}}},
    {"data": {"values": [{"part": "frame"}]}, "mark": {"type": "rect", "fill": "white", "stroke": "#a6a6a6", "strokeWidth": 1.5}, "encoding": {"x": {"field": "part", "type": "nominal", "scale": {"domain": ["frame"], "range": [31, 684], "paddingInner": 0, "paddingOuter": 0}, "axis": null}, "y": {"field": "part", "type": "nominal", "scale": {"domain": ["frame"], "range": [714, 849], "paddingInner": 0, "paddingOuter": 0}, "axis": null}}},
    {"data": {"values": [{"part": "frame", "row": "0", "caption": "July (2001-2020) Calm Wind (0-3 kt) Percentages"}]},
     "encoding": {"x": {"field": "part", "type": "nominal", "scale": {"domain": ["frame"], "range": [31, 684], "paddingInner": 0, "paddingOuter": 0}, "axis": null}, "y": {"field": "row", "type": "nominal", "scale": {"domain": ["0","1","2","3"], "range": [714, 849], "paddingInner": 0, "paddingOuter": 0}, "axis": null}},
     "layer": [
      {"mark": {"type": "rect", "fill": "white", "stroke": "#a6a6a6", "strokeWidth": 1.5}},
      {"mark": {"type": "text", "align": "left", "dx": 13, "font": "Lato", "fontSize": 24.5, "fontWeight": "bold", "color": "#262626"}, "encoding": {"x": {"field": "part", "type": "nominal", "bandPosition": 0, "scale": {"domain": ["frame"], "range": [31, 684], "paddingInner": 0, "paddingOuter": 0}, "axis": null}, "text": {"field": "caption"}}}
     ]},
    {"data": {"name": "calm"}, "transform": [{"filter": "datum.month == 'July'"}],
     "encoding": {"x": {"field": "side", "type": "nominal", "scale": {"domain": ["L","R"], "range": [98.25, 815.25], "paddingInner": 0, "paddingOuter": 0}, "axis": null}, "y": {"field": "row", "type": "nominal", "scale": {"domain": ["0","1","2","3"], "range": [714, 849], "paddingInner": 0, "paddingOuter": 0}, "axis": null}},
     "layer": [
      {"mark": {"type": "rect", "width": 95, "fill": "white", "stroke": "#a6a6a6", "strokeWidth": 1.5}},
      {"mark": {"type": "text", "font": "Lato", "fontSize": 23.5, "color": "#262626"}, "encoding": {"text": {"field": "calm", "type": "quantitative", "format": ".0%"}}}
     ]},
    {"data": {"name": "calm"}, "transform": [{"filter": "datum.month == 'July'"}], "mark": {"type": "text", "align": "left", "font": "Lato", "fontSize": 20.5, "color": "#262626"},
     "encoding": {"x": {"field": "side", "type": "nominal", "scale": {"type": "point", "domain": ["L","R"], "range": [87, 455], "padding": 0}, "axis": null}, "y": {"field": "row", "type": "nominal", "scale": {"domain": ["0","1","2","3"], "range": [714, 849], "paddingInner": 0, "paddingOuter": 0}, "axis": null}, "text": {"field": "period"}}},
    {"data": {"name": "calm"}, "transform": [{"filter": "datum.month == 'July'"}], "mark": {"type": "point", "shape": "M-1,0L1,0", "size": 1936, "filled": false, "strokeWidth": 6.5, "strokeCap": "round", "opacity": 1},
     "encoding": {"x": {"field": "side", "type": "nominal", "scale": {"type": "point", "domain": ["L","R"], "range": [60.5, 431.5], "padding": 0}, "axis": null}, "y": {"field": "row", "type": "nominal", "scale": {"domain": ["0","1","2","3"], "range": [714, 849], "paddingInner": 0, "paddingOuter": 0}, "axis": null}, "color": {"field": "period", "type": "nominal", "scale": {"domain": ["6 AM - 8 AM","8 AM - 11 AM","11 AM - 2 PM","2 PM - 5 PM","5 PM - 8 PM","8 PM - 11 PM"], "range": ["#8b0a0a","#ff3b1b","#ff8a0d","#ffcc00","#8db339","#3a5a1f"]}, "legend": null}}}
   ],
   "resolve": {"scale": {"x": "independent", "y": "independent"}}}
 ],
 "resolve": {"scale": {"x": "independent", "y": "independent"}}
},
{"width": 714, "height": 851,
 "layer": [
  {"encoding": {"x": {"field": "x", "type": "quantitative", "scale": {"domain": [-19.043, 18.936], "nice": false, "zero": false}, "axis": null}, "y": {"field": "y", "type": "quantitative", "scale": {"domain": [-25.106, 20.16], "nice": false, "zero": false}, "axis": null}},
   "layer": [
    {"data": {"name": "runways"}, "transform": [{"calculate": "datum.pct*sin(datum.dir*PI/180)", "as": "x"}, {"calculate": "datum.pct*cos(datum.dir*PI/180)", "as": "y"}], "mark": {"type": "line", "color": "#4472c4", "strokeWidth": 8}, "encoding": {"detail": {"field": "runway"}}},
    {"data": {"name": "centerline"}, "transform": [{"calculate": "datum.pct*sin(datum.dir*PI/180)", "as": "x"}, {"calculate": "datum.pct*cos(datum.dir*PI/180)", "as": "y"}], "mark": {"type": "line", "color": "#c7d6ef", "strokeWidth": 7, "strokeDash": [24, 13]}, "encoding": {}},
    {"data": {"name": "dirs"}, "transform": [{"flatten": ["ring"]}, {"calculate": "datum.ring*sin(datum.dir*PI/180)", "as": "x"}, {"calculate": "datum.ring*cos(datum.dir*PI/180)", "as": "y"}], "mark": {"type": "line", "interpolate": "linear-closed", "color": "#d9d9d9", "strokeWidth": 1.2}, "encoding": {"detail": {"field": "ring"}, "order": {"field": "dir", "type": "quantitative"}}},
    {"data": {"name": "winds"}, "transform": [{"filter": "datum.month == 'August'"}, {"flatten": ["dir", "pct"]}, {"calculate": "datum.pct*sin(datum.dir*PI/180)", "as": "x"}, {"calculate": "datum.pct*cos(datum.dir*PI/180)", "as": "y"}], "mark": {"type": "line", "interpolate": "linear-closed", "strokeWidth": 3.5, "strokeJoin": "round"}, "encoding": {"color": {"field": "period", "type": "nominal", "scale": {"domain": ["6 AM - 8 AM","8 AM - 11 AM","11 AM - 2 PM","2 PM - 5 PM","5 PM - 8 PM","8 PM - 11 PM"], "range": ["#8b0a0a","#ff3b1b","#ff8a0d","#ffcc00","#8db339","#3a5a1f"]}, "legend": null}, "order": {"field": "dir", "type": "quantitative"}}},
    {"data": {"name": "dirs"}, "transform": [{"filter": "datum.dir > 0 && datum.dir < 180"}, {"calculate": "16.85*sin(datum.dir*PI/180)", "as": "x"}, {"calculate": "16.85*cos(datum.dir*PI/180)", "as": "y"}], "mark": {"type": "text", "align": "left", "baseline": "middle", "font": "Lato", "fontSize": 17.5, "color": "#333333"}, "encoding": {"text": {"field": "dir", "type": "nominal"}}},
    {"data": {"name": "dirs"}, "transform": [{"filter": "datum.dir > 180 && datum.dir < 360"}, {"calculate": "16.85*sin(datum.dir*PI/180)", "as": "x"}, {"calculate": "16.85*cos(datum.dir*PI/180)", "as": "y"}], "mark": {"type": "text", "align": "right", "baseline": "middle", "font": "Lato", "fontSize": 17.5, "color": "#333333"}, "encoding": {"text": {"field": "dir", "type": "nominal"}}},
    {"data": {"name": "dirs"}, "transform": [{"filter": "datum.dir == 360"}, {"calculate": "0", "as": "x"}, {"calculate": "16.95", "as": "y"}], "mark": {"type": "text", "align": "center", "baseline": "bottom", "font": "Lato", "fontSize": 17.5, "color": "#333333"}, "encoding": {"text": {"field": "dir", "type": "nominal"}}},
    {"data": {"name": "dirs"}, "transform": [{"filter": "datum.dir == 180"}, {"calculate": "0", "as": "x"}, {"calculate": "-16.95", "as": "y"}], "mark": {"type": "text", "align": "center", "baseline": "top", "font": "Lato", "fontSize": 17.5, "color": "#333333"}, "encoding": {"text": {"field": "dir", "type": "nominal"}}},
    {"data": {"name": "ticks"}, "transform": [{"calculate": "datum.pct*sin(datum.dir*PI/180)", "as": "x"}, {"calculate": "datum.pct*cos(datum.dir*PI/180)", "as": "y"}], "mark": {"type": "text", "align": "right", "dx": -18, "font": "Lato", "fontSize": 17.5, "color": "#333333"}, "encoding": {"text": {"field": "label"}}}
   ]},
  {"layer": [
    {"data": {"values": [{"part": "frame", "caption": "August Wind: Time of Day"}]}, "mark": {"type": "text", "font": "Lato", "fontSize": 29.5, "fontWeight": "bold", "color": "#1f5c78"}, "encoding": {"x": {"field": "part", "type": "nominal", "scale": {"domain": ["frame"], "range": [0, 714], "paddingInner": 0, "paddingOuter": 0}, "axis": null}, "y": {"field": "part", "type": "nominal", "scale": {"domain": ["frame"], "range": [4, 42], "paddingInner": 0, "paddingOuter": 0}, "axis": null}, "text": {"field": "caption"}}},
    {"data": {"values": [{"part": "frame"}]}, "mark": {"type": "rect", "fill": "white", "stroke": "#a6a6a6", "strokeWidth": 1.5}, "encoding": {"x": {"field": "part", "type": "nominal", "scale": {"domain": ["frame"], "range": [31, 684], "paddingInner": 0, "paddingOuter": 0}, "axis": null}, "y": {"field": "part", "type": "nominal", "scale": {"domain": ["frame"], "range": [714, 849], "paddingInner": 0, "paddingOuter": 0}, "axis": null}}},
    {"data": {"values": [{"part": "frame", "row": "0", "caption": "August (2001-2020) Calm Wind (0-3 kt) Percentages"}]},
     "encoding": {"x": {"field": "part", "type": "nominal", "scale": {"domain": ["frame"], "range": [31, 684], "paddingInner": 0, "paddingOuter": 0}, "axis": null}, "y": {"field": "row", "type": "nominal", "scale": {"domain": ["0","1","2","3"], "range": [714, 849], "paddingInner": 0, "paddingOuter": 0}, "axis": null}},
     "layer": [
      {"mark": {"type": "rect", "fill": "white", "stroke": "#a6a6a6", "strokeWidth": 1.5}},
      {"mark": {"type": "text", "align": "left", "dx": 13, "font": "Lato", "fontSize": 24.5, "fontWeight": "bold", "color": "#262626"}, "encoding": {"x": {"field": "part", "type": "nominal", "bandPosition": 0, "scale": {"domain": ["frame"], "range": [31, 684], "paddingInner": 0, "paddingOuter": 0}, "axis": null}, "text": {"field": "caption"}}}
     ]},
    {"data": {"name": "calm"}, "transform": [{"filter": "datum.month == 'August'"}],
     "encoding": {"x": {"field": "side", "type": "nominal", "scale": {"domain": ["L","R"], "range": [98.25, 815.25], "paddingInner": 0, "paddingOuter": 0}, "axis": null}, "y": {"field": "row", "type": "nominal", "scale": {"domain": ["0","1","2","3"], "range": [714, 849], "paddingInner": 0, "paddingOuter": 0}, "axis": null}},
     "layer": [
      {"mark": {"type": "rect", "width": 95, "fill": "white", "stroke": "#a6a6a6", "strokeWidth": 1.5}},
      {"mark": {"type": "text", "font": "Lato", "fontSize": 23.5, "color": "#262626"}, "encoding": {"text": {"field": "calm", "type": "quantitative", "format": ".0%"}}}
     ]},
    {"data": {"name": "calm"}, "transform": [{"filter": "datum.month == 'August'"}], "mark": {"type": "text", "align": "left", "font": "Lato", "fontSize": 20.5, "color": "#262626"},
     "encoding": {"x": {"field": "side", "type": "nominal", "scale": {"type": "point", "domain": ["L","R"], "range": [87, 455], "padding": 0}, "axis": null}, "y": {"field": "row", "type": "nominal", "scale": {"domain": ["0","1","2","3"], "range": [714, 849], "paddingInner": 0, "paddingOuter": 0}, "axis": null}, "text": {"field": "period"}}},
    {"data": {"name": "calm"}, "transform": [{"filter": "datum.month == 'August'"}], "mark": {"type": "point", "shape": "M-1,0L1,0", "size": 1936, "filled": false, "strokeWidth": 6.5, "strokeCap": "round", "opacity": 1},
     "encoding": {"x": {"field": "side", "type": "nominal", "scale": {"type": "point", "domain": ["L","R"], "range": [60.5, 431.5], "padding": 0}, "axis": null}, "y": {"field": "row", "type": "nominal", "scale": {"domain": ["0","1","2","3"], "range": [714, 849], "paddingInner": 0, "paddingOuter": 0}, "axis": null}, "color": {"field": "period", "type": "nominal", "scale": {"domain": ["6 AM - 8 AM","8 AM - 11 AM","11 AM - 2 PM","2 PM - 5 PM","5 PM - 8 PM","8 PM - 11 PM"], "range": ["#8b0a0a","#ff3b1b","#ff8a0d","#ffcc00","#8db339","#3a5a1f"]}, "legend": null}}}
   ],
   "resolve": {"scale": {"x": "independent", "y": "independent"}}}
 ],
 "resolve": {"scale": {"x": "independent", "y": "independent"}}
}
]
}
